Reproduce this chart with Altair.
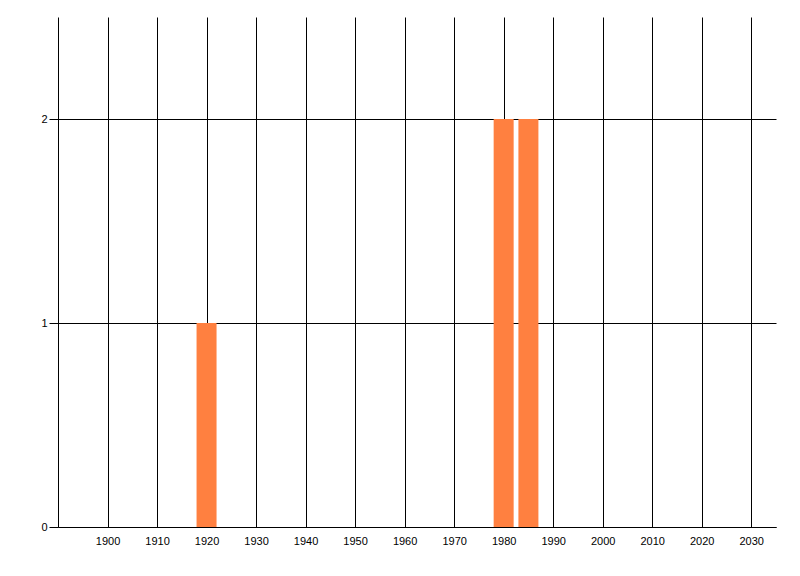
import altair as alt
import pandas as pd

years = [1920, 1980, 1985]
counts = [1, 2, 2]
x_ticks = list(range(1900, 2031, 10))
y_ticks = [0, 1, 2]

df = pd.DataFrame({"year": years, "count": counts})

chart = alt.Chart(df).mark_bar(size=20, color="#FF8040").encode(
    x=alt.X("year:Q",
            scale=alt.Scale(domain=[1890, 2035], nice=False, zero=False, padding=0),
            axis=alt.Axis(values=x_ticks, format="d", title=None, grid=True,
                          ticks=False, labelPadding=8, domainColor="black",
                          gridColor="black", gridOpacity=1, gridWidth=1,
                          labelColor="black", labelFont="Liberation Sans",
                          labelFontSize=11)),
    y=alt.Y("count:Q",
            scale=alt.Scale(domain=[0, 2.5], nice=False, padding=0),
            axis=alt.Axis(values=y_ticks, title=None, grid=True, ticks=True,
                          tickSize=9, tickColor="black", labelPadding=2,
                          domainColor="black", gridColor="black", gridOpacity=1,
                          gridWidth=1, labelColor="black",
                          labelFont="Liberation Sans", labelFontSize=11)),
).properties(
    width=718,
    height=510,
    autosize=alt.AutoSizeParams(type="none"),
    padding={"left": 50, "top": 9, "right": 16, "bottom": 40},
).configure_view(stroke=None).configure_axis(domainWidth=1)

chart.save("out.html", embed_options={"renderer": "svg", "actions": False})
